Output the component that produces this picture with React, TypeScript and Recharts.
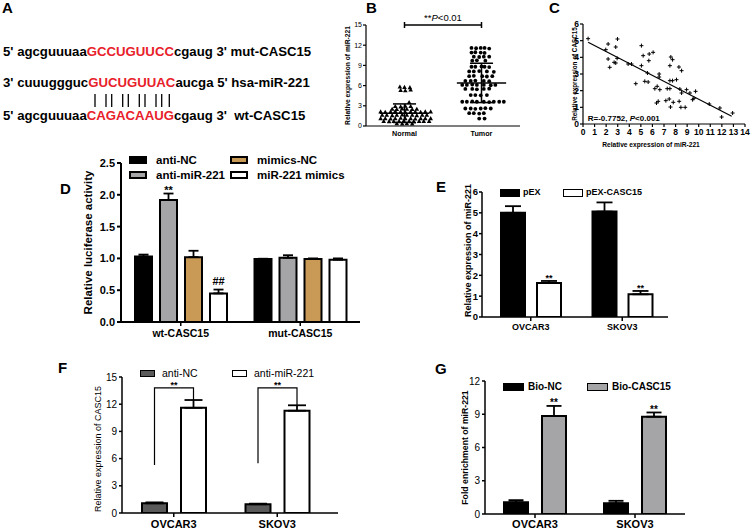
import React from 'react';
import {
  BarChart, Bar, XAxis, YAxis, ErrorBar, LabelList, Legend,
  ScatterChart, Scatter, ReferenceLine, ReferenceDot,
} from 'recharts';

const FONT = '"Liberation Sans", Arial, Helvetica, sans-serif';
const RED = '#e8202a';

// ---------------- Panel A (sequence diagram) ----------------
const aLines = [
  { pre: "5' agcguuuaa", core: 'GCCUGUUCC', post: "cgaug 3' mut-CASC15" },
  { pre: "3' cuuuggguc", core: 'GUCUGUUAC', post: "aucga 5' hsa-miR-221" },
  { pre: "5' agcguuuaa", core: 'CAGACAAUG', post: "cgaug 3'  wt-CASC15" },
];

// ---------------- Panel B (scatter dot plot) ----------------
const bGroups = ['Normal', 'Tumor'];
const bNormalPoints: [number, number][] = [
  [0.94, 5.8], [1.0, 5.75], [1.07, 5.7],
  [0.95, 5.3], [1.01, 5.25], [1.08, 5.35],
  [1.06, 3.5],
  [0.88, 2.9], [0.95, 2.85], [1.01, 2.95], [1.08, 2.9],
  [0.84, 2.5], [0.9, 2.45], [0.97, 2.55], [1.03, 2.5], [1.1, 2.45], [1.16, 2.5],
  [0.69, 2.1], [0.75, 2.05], [0.82, 2.1], [0.88, 2.15], [0.95, 2.1], [1.01, 2.05], [1.08, 2.1], [1.14, 2.1], [1.21, 2.05], [1.27, 2.1], [1.34, 2.1],
  [0.71, 1.6], [0.77, 1.6], [0.84, 1.55], [0.9, 1.6], [0.97, 1.65], [1.03, 1.6], [1.1, 1.6], [1.16, 1.55], [1.23, 1.6], [1.29, 1.6],
  [0.69, 1.1], [0.75, 1.1], [0.82, 1.05], [0.88, 1.1], [0.95, 1.15], [1.01, 1.1], [1.08, 1.1], [1.14, 1.05], [1.21, 1.1], [1.27, 1.1], [1.34, 1.1],
  [0.73, 0.7], [0.8, 0.65], [0.86, 0.7], [0.93, 0.7], [0.99, 0.75], [1.06, 0.7], [1.12, 0.65], [1.19, 0.7], [1.25, 0.7], [1.32, 0.7],
  [0.9, 0.35], [0.97, 0.3], [1.03, 0.35], [1.1, 0.3],
];
const bTumorPoints: [number, number][] = [
  [1.87, 11.6], [1.93, 11.55], [1.99, 11.6], [2.04, 11.6], [2.1, 11.5],
  [1.87, 10.9], [1.92, 10.95], [1.99, 10.9], [2.04, 10.85],
  [1.9, 10.3], [1.97, 10.25], [2.03, 10.3], [2.1, 10.3],
  [1.88, 9.7], [1.94, 9.75], [2.05, 9.7],
  [1.87, 8.8], [1.92, 8.8], [2.0, 8.85], [2.04, 8.8], [2.1, 8.75],
  [1.84, 8.1], [1.9, 8.1], [1.97, 8.15], [2.07, 8.1], [2.16, 8.05],
  [1.84, 7.4], [1.9, 7.45], [2.01, 7.4], [2.07, 7.35], [2.14, 7.4],
  [1.79, 6.7], [1.86, 6.7], [1.92, 6.75], [2.03, 6.7], [2.1, 6.65],
  [1.75, 6.1], [1.81, 6.1], [1.88, 6.15], [1.94, 6.1], [2.03, 6.1], [2.12, 6.05], [2.18, 6.1],
  [1.79, 5.5], [1.88, 5.5], [1.94, 5.45], [2.03, 5.5], [2.1, 5.55],
  [1.86, 4.6], [1.92, 4.6], [1.99, 4.55], [2.07, 4.6],
  [1.75, 3.6], [1.81, 3.6], [1.88, 3.65], [1.94, 3.6], [2.03, 3.6], [2.1, 3.55], [2.16, 3.6], [2.23, 3.6], [2.29, 3.6],
  [1.79, 2.6], [1.86, 2.6], [1.92, 2.55], [1.99, 2.6], [2.05, 2.65], [2.12, 2.6],
  [1.84, 1.9], [1.9, 1.9], [1.97, 1.85], [2.03, 1.9],
  [1.97, 1.1], [2.04, 1.1],
];
const bMeans = [1.9, 6.4];
const bSDs = [1.38, 2.92];
const bTicks = [0, 3, 6, 9, 12, 15];

// ---------------- Panel C (correlation) ----------------
const cPoints: [number, number][] = [
  [0.44, 5.12], [2.17, 4.8], [1.97, 4.46], [2.83, 4.62], [2.98, 5.1], [2.17, 3.9], [2.31, 3.4],
  [2.69, 3.7], [2.83, 3.66], [2.95, 3.94], [3.9, 3.6], [4.19, 3.6], [5.05, 4.7], [5.2, 4.1],
  [5.05, 3.5], [5.72, 4.2], [6.06, 4.3], [5.69, 3.8], [5.57, 3.06], [4.56, 2.42], [5.34, 2.56],
  [5.63, 2.52], [6.58, 3.0], [6.58, 2.82], [6.21, 2.12], [6.41, 2.26], [6.64, 2.06], [6.35, 1.26],
  [6.5, 1.36], [7.59, 4.02], [7.74, 3.86], [7.51, 3.5], [7.51, 2.6], [7.74, 2.6], [7.28, 2.12],
  [7.51, 2.12], [7.16, 1.4], [7.45, 1.5], [7.56, 1.02], [7.8, 1.3], [8.08, 2.66], [8.29, 3.42],
  [8.52, 3.2], [8.37, 2.1], [8.52, 1.86], [8.31, 1.36], [8.46, 1.0], [8.83, 1.0], [8.95, 2.06],
  [9.24, 1.86], [9.47, 1.46], [9.58, 1.54], [9.73, 1.96], [10.91, 1.2], [11.83, 0.96],
  [11.98, 0.42], [12.93, 0.66],
];
const cFit: [number, number][] = [[0.44, 4.9], [12.85, 0.46]];
const cXTicks = [0, 1, 2, 3, 4, 5, 6, 7, 8, 9, 10, 11, 12, 13, 14];
const cYTicks = [0, 1, 2, 3, 4, 5, 6];
const cR = '-0.7752';
const cP = '<0.001';

// ---------------- Panel D (luciferase) ----------------
const dCategories = ['wt-CASC15', 'mut-CASC15'];
const dSeries = ['anti-NC', 'anti-miR-221', 'mimics-NC', 'miR-221 mimics'];
const dColors = ['#000000', '#a5a5a8', '#c99a55', '#ffffff'];
const dAntiNC = [1.03, 0.99];
const dAntiNCErr = [0.03, 0.005];
const dAntiMiR = [1.92, 1.01];
const dAntiMiRErr = [0.1, 0.04];
const dMimicsNC = [1.02, 0.99];
const dMimicsNCErr = [0.1, 0.01];
const dMimics = [0.45, 0.98];
const dMimicsErr = [0.06, 0.02];
const dMarksAntiMiR = ['**', ''];
const dMarksMimics = ['##', ''];
const dTicks = [0, 0.5, 1, 1.5, 2, 2.5];

// ---------------- Panel E ----------------
const eCategories = ['OVCAR3', 'SKOV3'];
const eSeries = ['pEX', 'pEX-CASC15'];
const eColors = ['#000000', '#ffffff'];
const ePEX = [5.0, 5.06];
const ePEXErr = [0.32, 0.44];
const ePEXC = [1.63, 1.09];
const ePEXCErr = [0.1, 0.16];
const eMarks = ['**', '**'];
const eTicks = [0, 1, 2, 3, 4, 5, 6];

// ---------------- Panel F ----------------
const fCategories = ['OVCAR3', 'SKOV3'];
const fSeries = ['anti-NC', 'anti-miR-221'];
const fColors = ['#5a5a5a', '#ffffff'];
const fAntiNC = [1.07, 0.96];
const fAntiNCErr = [0.1, 0.07];
const fAntiMiR = [11.6, 11.28];
const fAntiMiRErr = [0.86, 0.6];
const fBracketLeft = [5.3, 5.5];
const fBracketTop = [13.8, 13.8];
const fBracketRight = [12.46, 11.9];
const fMarks = ['**', '**'];
const fTicks = [0, 3, 6, 9, 12, 15];

// ---------------- Panel G ----------------
const gCategories = ['OVCAR3', 'SKOV3'];
const gSeries = ['Bio-NC', 'Bio-CASC15'];
const gColors = ['#000000', '#a5a5a8'];
const gBioNC = [1.05, 0.97];
const gBioNCErr = [0.2, 0.22];
const gBioC = [8.85, 8.78];
const gBioCErr = [0.9, 0.38];
const gMarks = ['**', '**'];
const gTicks = [0, 3, 6, 9, 12];

// ---------------- helpers ----------------
function buildTable(cats: string[], series: number[][], errs: number[][]) {
  return cats.map((cat, i) => {
    const row: any = { cat };
    series.forEach((s, k) => {
      row['s' + k] = s[i];
      row['e' + k] = [0, errs[k][i]];
    });
    return row;
  });
}

function boxOf(props: any) {
  const vb = props.viewBox || {};
  return {
    x: vb.x ?? props.x,
    y: vb.y ?? props.y,
    w: vb.width ?? props.width,
    h: vb.height ?? props.height,
  };
}

function markLabel(values: number[], errs: number[], marks: string[], fontSize: number) {
  return (props: any) => {
    const i = props.index;
    const mark = marks[i];
    if (!mark) return null;
    const { x, y, w, h } = boxOf(props);
    const ppu = h / values[i];
    const top = y - errs[i] * ppu;
    const ddy = mark === '##' ? -4.5 : 0.5;
    return (
      <text x={x + w / 2} y={top + ddy} textAnchor="middle" fontSize={fontSize} fontWeight={700} fill="#000">
        {mark}
      </text>
    );
  };
}

function legendContent(order: string[], o: {
  colW: number[]; rows: number; rowH: number; boxW: number; boxH: number; gap: number;
  fontSize: number; fontWeight: number; border: number;
}) {
  return (props: any) => {
    const items = [...(props.payload || [])].sort(
      (a: any, b: any) => order.indexOf(a.value) - order.indexOf(b.value)
    );
    return (
      <div
        style={{
          display: 'grid',
          gridTemplateColumns: o.colW.map((w) => w + 'px').join(' '),
          gridTemplateRows: `repeat(${o.rows}, ${o.rowH}px)`,
          gridAutoFlow: 'column',
          fontFamily: FONT,
        }}
      >
        {items.map((it: any, k: number) => (
          <div key={k} style={{ display: 'flex', alignItems: 'center', whiteSpace: 'nowrap' }}>
            <span
              style={{
                display: 'inline-block', flex: 'none', width: o.boxW, height: o.boxH,
                background: it.color, border: `${o.border}px solid #000`, boxSizing: 'border-box',
              }}
            />
            <span style={{ marginLeft: o.gap, fontSize: o.fontSize, fontWeight: o.fontWeight, lineHeight: o.rowH + 'px', color: '#000' }}>
              {it.value}
            </span>
          </div>
        ))}
      </div>
    );
  };
}

const axisStyle = (w: number) => ({ stroke: '#000', strokeWidth: w });

function yLabel(value: string, offset: number, fontSize: number, fontWeight: number, dy = 0) {
  return {
    value, angle: -90, position: 'insideLeft' as const, offset, dy,
    style: { textAnchor: 'middle' as const, fontSize, fontWeight, fill: '#000' },
  };
}

// ---------------- Panel A + panel letters ----------------
function Overlay() {
  const baselines = [56, 87, 120];
  const pairX = [95, 106, 111.7, 122.7, 128.3, 139.3, 145, 156, 161.7, 169.3];
  const letters: [string, number, number][] = [
    ['A', 2, 12.7], ['B', 366, 12.7], ['C', 549, 12.7], ['D', 60, 194],
    ['E', 436, 192], ['F', 58, 373], ['G', 435, 374],
  ];
  return (
    <svg width={752} height={529} style={{ position: 'absolute', left: 0, top: 0 }}>
      {letters.map(([t, x, y]) => (
        <text key={t} x={x} y={y} fontSize={15} fontWeight={700} fill="#000" fontFamily={FONT}>{t}</text>
      ))}
      {aLines.map((l, i) => (
        <text key={i} x={3} y={baselines[i]} fontSize={13.2} fontWeight={700} fill="#000" fontFamily={FONT} style={{ whiteSpace: 'pre' }}>
          <tspan>{l.pre}</tspan>
          <tspan fill={RED}>{l.core}</tspan>
          <tspan>{l.post}</tspan>
        </text>
      ))}
      {pairX.map((x, i) => (
        <line key={i} x1={x} x2={x} y1={94} y2={107} stroke="#000" strokeWidth={1.3} />
      ))}
    </svg>
  );
}

// ---------------- Panel B ----------------
const B_MEAN_HW = 0.32;
const B_CAP_HW = 0.15;
const B_TICK = 0.45;

function PanelB() {
  const normal = bNormalPoints.map(([x, y]) => ({ x, y }));
  const tumor = bTumorPoints.map(([x, y]) => ({ x, y }));
  const ln = { stroke: '#000', strokeWidth: 1.5, ifOverflow: 'visible' as const };
  const lines = bMeans.flatMap((m, i) => {
    const c = i + 1;
    const s = bSDs[i];
    return [
      <ReferenceLine key={`m${i}`} segment={[{ x: c - B_MEAN_HW, y: m }, { x: c + B_MEAN_HW, y: m }]} {...ln} />,
      <ReferenceLine key={`s${i}`} segment={[{ x: c, y: m - s }, { x: c, y: m + s }]} {...ln} />,
      <ReferenceLine key={`u${i}`} segment={[{ x: c - B_CAP_HW, y: m + s }, { x: c + B_CAP_HW, y: m + s }]} {...ln} />,
      <ReferenceLine key={`l${i}`} segment={[{ x: c - B_CAP_HW, y: m - s }, { x: c + B_CAP_HW, y: m - s }]} {...ln} />,
    ];
  });
  const sigLabel = (p: any) => {
    const vb = p.viewBox || {};
    return (
      <text x={vb.x + vb.width / 2} y={vb.y - 4.5} textAnchor="middle" fontSize={9.5} fill="#000">
        **<tspan fontStyle="italic">P</tspan>&lt;0.01
      </text>
    );
  };
  const tri = (p: any) => (
    <path d={`M${p.cx},${p.cy - 2.5}L${p.cx + 2.3},${p.cy + 1.6}L${p.cx - 2.3},${p.cy + 1.6}Z`} fill="#000" />
  );
  const dot = (p: any) => <circle cx={p.cx} cy={p.cy} r={1.9} fill="#000" />;
  const top = bTicks[bTicks.length - 1];
  return (
    <ScatterChart width={184} height={131} margin={{ top: 14, right: 2, bottom: 2, left: 8 }}>
      <XAxis type="number" dataKey="x" domain={[0.5, 2.5]} ticks={[1, 2]} interval={0}
        tickFormatter={(v: number) => bGroups[v - 1]} height={14} tickSize={3} tickMargin={2}
        tickLine={false} axisLine={axisStyle(1.2)} tick={{ fontSize: 7.2, fontWeight: 700, fill: '#000' }} allowDataOverflow />
      <YAxis type="number" dataKey="y" domain={[0, 15]} ticks={bTicks} interval={0} width={20}
        tickSize={3} tickMargin={1} axisLine={axisStyle(1.2)} tickLine={axisStyle(1.2)}
        tick={{ fontSize: 7, fill: '#000' }} allowDataOverflow
        label={yLabel('Relative expression of miR-221', 2, 6.7, 700)} />
      <Scatter data={normal} shape={tri} isAnimationActive={false} />
      <Scatter data={tumor} shape={dot} isAnimationActive={false} />
      {lines}
      <ReferenceLine segment={[{ x: 1, y: top }, { x: 2, y: top }]} {...ln} label={sigLabel} />
      <ReferenceLine segment={[{ x: 1, y: top - B_TICK }, { x: 1, y: top + B_TICK }]} {...ln} />
      <ReferenceLine segment={[{ x: 2, y: top - B_TICK }, { x: 2, y: top + B_TICK }]} {...ln} />
    </ScatterChart>
  );
}

// ---------------- Panel C ----------------
function PanelC() {
  const pts = cPoints.map(([x, y]) => ({ x, y }));
  const cross = (p: any) => (
    <path d={`M${p.cx - 2},${p.cy}h4M${p.cx},${p.cy - 2}v4`} stroke="#000" strokeWidth={1} fill="none" />
  );
  const statLabel = (p: any) => {
    const vb = p.viewBox || {};
    return (
      <text x={vb.x} y={vb.y} fontSize={8} fontWeight={700} fill="#000">
        R={cR}, <tspan fontStyle="italic">P</tspan>{cP}
      </text>
    );
  };
  return (
    <ScatterChart width={186} height={133} margin={{ top: 6, right: 6, bottom: 1, left: 4 }}>
      <XAxis type="number" dataKey="x" domain={[0, 14]} ticks={cXTicks} interval={0} height={26}
        tickSize={3} tickMargin={2} axisLine={axisStyle(1.2)} tickLine={axisStyle(1.2)}
        tick={{ fontSize: 8.5, fontWeight: 700, fill: '#000' }} allowDataOverflow
        label={{ value: 'Relative expression of miR-221', position: 'insideBottom', offset: 3, dx: -13,
          style: { fontSize: 6.6, fontWeight: 700, fill: '#000' } }} />
      <YAxis type="number" dataKey="y" domain={[0, 6]} ticks={cYTicks} interval={0} width={14}
        tickSize={3} tickMargin={1} axisLine={axisStyle(1.2)} tickLine={axisStyle(1.2)}
        tick={{ fontSize: 8.5, fontWeight: 700, fill: '#000' }} allowDataOverflow
        label={yLabel('Relative expression of CASC15', 6, 6.3, 700)} />
      <Scatter data={pts} shape={cross} isAnimationActive={false} />
      <ReferenceLine segment={[{ x: cFit[0][0], y: cFit[0][1] }, { x: cFit[1][0], y: cFit[1][1] }]}
        stroke="#000" strokeWidth={1.2} ifOverflow="visible" />
      <ReferenceDot x={0.45} y={0.18} r={0.5} fill="none" stroke="none" ifOverflow="visible" label={statLabel} />
    </ScatterChart>
  );
}

// ---------------- Panel D ----------------
function PanelD() {
  const vals = [dAntiNC, dAntiMiR, dMimicsNC, dMimics];
  const errs = [dAntiNCErr, dAntiMiRErr, dMimicsNCErr, dMimicsErr];
  const data = buildTable(dCategories, vals, errs);
  const marks: (string[] | null)[] = [null, dMarksAntiMiR, null, dMarksMimics];
  return (
    <BarChart width={285} height={194} data={data} margin={{ top: 13, right: 4, bottom: 2, left: 2 }} barGap={8} barSize={17}>
      <XAxis dataKey="cat" height={20} tickSize={4} tickMargin={4} interval={0}
        axisLine={axisStyle(2)} tickLine={axisStyle(1.5)} tick={{ fontSize: 10.5, fontWeight: 700, fill: '#000' }} />
      <YAxis domain={[0, 2.5]} ticks={dTicks} interval={0} width={40} tickSize={4} tickMargin={2}
        tickFormatter={(v: number) => v.toFixed(1)} allowDataOverflow
        axisLine={axisStyle(2)} tickLine={axisStyle(2)} tick={{ fontSize: 11, fontWeight: 700, fill: '#000' }}
        label={yLabel('Relative luciferase activity', 7, 11.5, 700)} />
      <Legend layout="vertical" align="center" verticalAlign="middle" wrapperStyle={{ left: 50, top: 2.5 }}
        content={legendContent(dSeries, { colW: [101, 110], rows: 2, rowH: 15, boxW: 18, boxH: 8, gap: 9, fontSize: 11.5, fontWeight: 700, border: 2 })} />
      {dSeries.map((name, k) => (
        <Bar key={name} dataKey={'s' + k} name={name} fill={dColors[k]} stroke="#000" strokeWidth={2} isAnimationActive={false}>
          <ErrorBar dataKey={'e' + k} width={5} stroke="#000" strokeWidth={1.8} direction="y" />
          {marks[k] ? <LabelList content={markLabel(vals[k], errs[k], marks[k] as string[], 11)} /> : null}
        </Bar>
      ))}
    </BarChart>
  );
}

// ---------------- Panel E ----------------
function PanelE() {
  const vals = [ePEX, ePEXC];
  const errs = [ePEXErr, ePEXCErr];
  const data = buildTable(eCategories, vals, errs);
  return (
    <BarChart width={216} height={153} data={data} margin={{ top: 8, right: 6, bottom: 2, left: 2 }} barGap={12} barSize={24}>
      <XAxis dataKey="cat" height={18} tickSize={4} tickMargin={3} interval={0} padding={{ left: 3, right: 0 }}
        axisLine={axisStyle(1.5)} tickLine={axisStyle(1.5)} tick={{ fontSize: 9, fontWeight: 700, fill: '#000' }} />
      <YAxis domain={[0, 6]} ticks={eTicks} interval={0} width={22} tickSize={3} tickMargin={1} allowDataOverflow
        axisLine={axisStyle(1.5)} tickLine={axisStyle(1.5)} tick={{ fontSize: 9.5, fontWeight: 700, fill: '#000' }}
        label={yLabel('Relative expression of miR-221', 8, 9, 700, -4)} />
      <Legend layout="vertical" align="center" verticalAlign="middle" wrapperStyle={{ left: 42, top: 3 }}
        content={legendContent(eSeries, { colW: [63, 100], rows: 1, rowH: 11, boxW: 20, boxH: 8, gap: 3, fontSize: 9, fontWeight: 700, border: 1.5 })} />
      {eSeries.map((name, k) => (
        <Bar key={name} dataKey={'s' + k} name={name} fill={eColors[k]} stroke="#000" strokeWidth={2} isAnimationActive={false}>
          <ErrorBar dataKey={'e' + k} width={8} stroke="#000" strokeWidth={1.8} direction="y" />
          {k === 1 ? <LabelList content={markLabel(vals[k], errs[k], eMarks, 9)} /> : null}
        </Bar>
      ))}
    </BarChart>
  );
}

// ---------------- Panel F ----------------
const F_BAR = 25;
const F_GAP = 14;

function PanelF() {
  const vals = [fAntiNC, fAntiMiR];
  const errs = [fAntiNCErr, fAntiMiRErr];
  const data = buildTable(fCategories, vals, errs);
  const bracket = (props: any) => {
    const i = props.index;
    const { x, y, w, h } = boxOf(props);
    const base = y + h;
    const ppu = h / fAntiMiR[i];
    const Y = (v: number) => base - v * ppu;
    const rx = x + w / 2;
    const lx = rx - (F_BAR + F_GAP);
    const top = Y(fBracketTop[i]);
    return (
      <g>
        <path d={`M${lx},${Y(fBracketLeft[i])}V${top}H${rx}V${Y(fBracketRight[i])}`} fill="none" stroke="#000" strokeWidth={1.2} />
        <text x={(lx + rx) / 2} y={top} textAnchor="middle" fontSize={9} fontWeight={700} fill="#000">{fMarks[i]}</text>
      </g>
    );
  };
  return (
    <BarChart width={252} height={163} data={data} margin={{ top: 11, right: 4, bottom: 0, left: 6 }} barGap={F_GAP} barSize={F_BAR}>
      <XAxis dataKey="cat" height={16} tickSize={4} tickMargin={3} interval={0} padding={{ left: 0, right: 9 }}
        axisLine={axisStyle(1.5)} tickLine={axisStyle(1.5)} tick={{ fontSize: 11, fontWeight: 700, fill: '#000' }} />
      <YAxis domain={[0, 15]} ticks={fTicks} interval={0} width={26} tickSize={3} tickMargin={2} allowDataOverflow
        axisLine={axisStyle(1.5)} tickLine={axisStyle(1.5)} tick={{ fontSize: 10, fill: '#000' }}
        label={yLabel('Relative expression of CASC15', 1.5, 9, 400, 4)} />
      <Legend layout="vertical" align="center" verticalAlign="middle" wrapperStyle={{ left: 50, top: 1 }}
        content={legendContent(fSeries, { colW: [92, 110], rows: 1, rowH: 12, boxW: 15, boxH: 7, gap: 7, fontSize: 10.5, fontWeight: 400, border: 1.5 })} />
      {fSeries.map((name, k) => (
        <Bar key={name} dataKey={'s' + k} name={name} fill={fColors[k]} stroke="#000" strokeWidth={2} isAnimationActive={false}>
          <ErrorBar dataKey={'e' + k} width={9} stroke="#000" strokeWidth={1.8} direction="y" />
          {k === 1 ? <LabelList content={bracket} /> : null}
        </Bar>
      ))}
    </BarChart>
  );
}

// ---------------- Panel G ----------------
function PanelG() {
  const vals = [gBioNC, gBioC];
  const errs = [gBioNCErr, gBioCErr];
  const data = buildTable(gCategories, vals, errs);
  return (
    <BarChart width={230} height={155} data={data} margin={{ top: 7, right: 6, bottom: 0, left: 2 }} barGap={14} barSize={24}>
      <XAxis dataKey="cat" height={15} tickSize={4} tickMargin={2} interval={0}
        axisLine={axisStyle(1.5)} tickLine={axisStyle(1.5)} tick={{ fontSize: 11, fontWeight: 700, fill: '#000' }} />
      <YAxis domain={[0, 12]} ticks={gTicks} interval={0} width={22} tickSize={3} tickMargin={2} allowDataOverflow
        axisLine={axisStyle(1.5)} tickLine={axisStyle(1.5)} tick={{ fontSize: 10, fill: '#000' }}
        label={yLabel('Fold enrichment of miR-221', 2, 8.7, 700)} />
      <Legend layout="vertical" align="center" verticalAlign="middle" wrapperStyle={{ left: 42, top: 6.5 }}
        content={legendContent(gSeries, { colW: [84, 100], rows: 1, rowH: 12, boxW: 21, boxH: 8, gap: 4, fontSize: 10, fontWeight: 700, border: 1.5 })} />
      {gSeries.map((name, k) => (
        <Bar key={name} dataKey={'s' + k} name={name} fill={gColors[k]} stroke="#000" strokeWidth={2} isAnimationActive={false}>
          <ErrorBar dataKey={'e' + k} width={7.5} stroke="#000" strokeWidth={1.8} direction="y" />
          {k === 1 ? <LabelList content={markLabel(vals[k], errs[k], gMarks, 10)} /> : null}
        </Bar>
      ))}
    </BarChart>
  );
}

export default function App() {
  const place = (left: number, top: number): React.CSSProperties => ({ position: 'absolute', left, top });
  return (
    <div style={{ position: 'absolute', left: 0, top: 0, width: 752, height: 529, background: '#fff', fontFamily: FONT, overflow: 'hidden' }}>
      <Overlay />
      <div style={place(338, 11)}><PanelB /></div>
      <div style={place(565, 18)}><PanelC /></div>
      <div style={place(79, 150)}><PanelD /></div>
      <div style={place(458, 184)}><PanelE /></div>
      <div style={place(90, 366)}><PanelF /></div>
      <div style={place(461, 374)}><PanelG /></div>
    </div>
  );
}
